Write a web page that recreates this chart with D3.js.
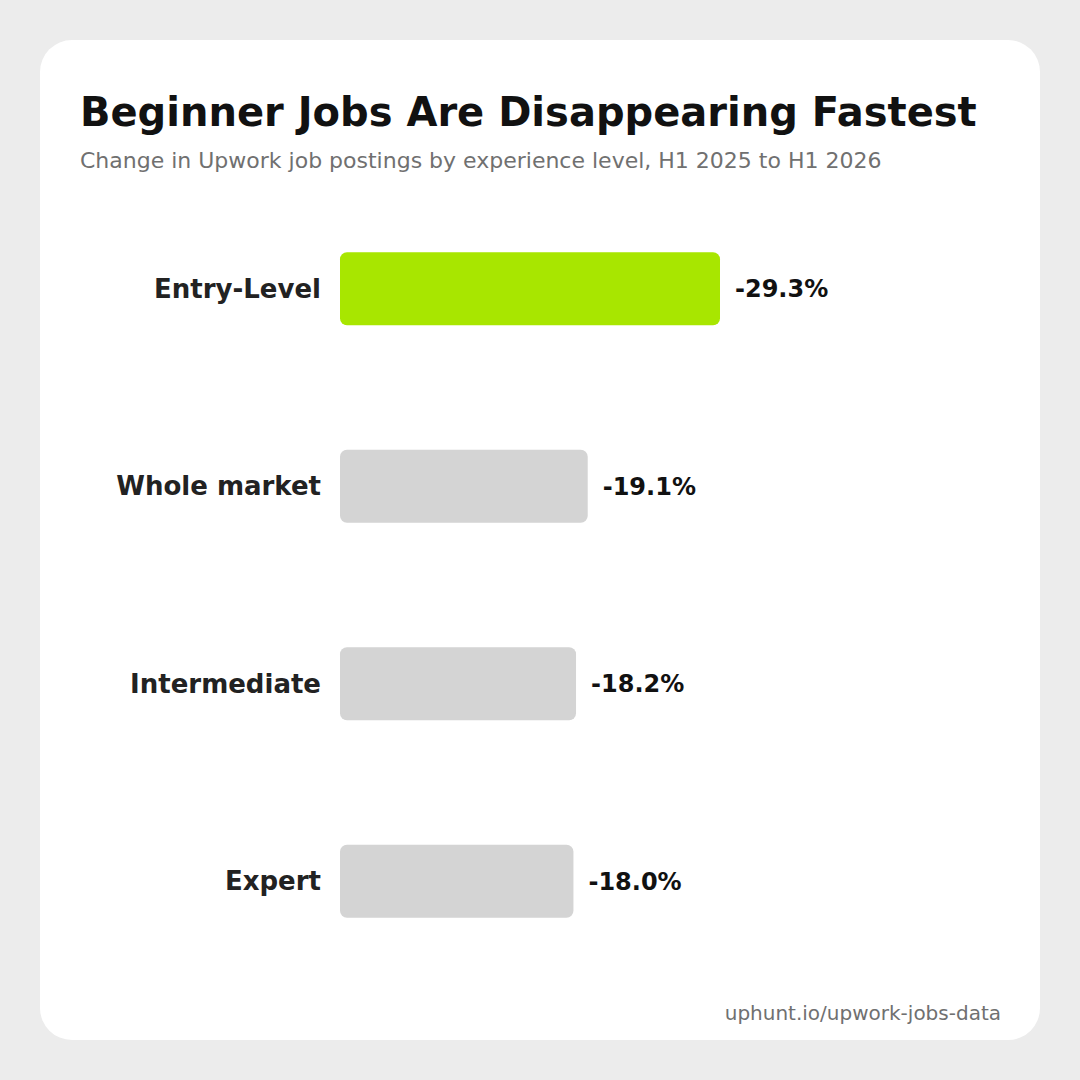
<!DOCTYPE html>
<html><head><meta charset="utf-8">
<script src="https://cdn.jsdelivr.net/npm/d3@7"></script>
<style>html,body{margin:0;padding:0;background:#ececec;}svg{display:block;}</style>
</head><body>
<svg id="c" width="1080" height="1080"></svg>
<script>
const categories = ["Entry-Level", "Whole market", "Intermediate", "Expert"];
const values = [-29.3, -19.1, -18.2, -18.0];
const valueLabels = ["-29.3%", "-19.1%", "-18.2%", "-18.0%"];
const highlight = ["Entry-Level"];

const svg = d3.select("#c");
const font = "'DejaVu Sans', sans-serif";
svg.append("rect").attr("width",1080).attr("height",1080).attr("fill","#ececec");
svg.append("rect").attr("x",40).attr("y",40).attr("width",1000).attr("height",1000).attr("rx",32).attr("fill","#fff");

svg.append("text").attr("x",80).attr("y",126).attr("font-family",font).attr("font-weight","bold")
  .attr("font-size",40).attr("fill","#111").text("Beginner Jobs Are Disappearing Fastest");
svg.append("text").attr("x",80).attr("y",168).attr("font-family",font)
  .attr("font-size",22).attr("fill","#707070").text("Change in Upwork job postings by experience level, H1 2025 to H1 2026");

const x = d3.scaleLinear().domain([0, 29.3]).range([340, 720]);
const y = d3.scaleBand().domain(categories).range([190, 980]).paddingInner(0.63).paddingOuter(0.315);

const g = svg.append("g");
const rows = g.selectAll("g.row").data(categories).join("g").attr("class","row");
rows.append("rect")
  .attr("x", x(0))
  .attr("y", d => y(d))
  .attr("width", (d,i) => x(Math.abs(values[i])) - x(0))
  .attr("height", y.bandwidth())
  .attr("rx", 7)
  .attr("fill", d => highlight.includes(d) ? "#a8e600" : "#d4d4d4");
rows.append("text")
  .attr("x", 321)
  .attr("y", d => y(d) + y.bandwidth()/2)
  .attr("dy","0.35em")
  .attr("text-anchor","end")
  .attr("font-family",font).attr("font-weight","bold").attr("font-size",26)
  .attr("fill","#222").text(d => d);
rows.append("text")
  .attr("x", (d,i) => x(Math.abs(values[i])) + 15)
  .attr("y", d => y(d) + y.bandwidth()/2)
  .attr("dy","0.35em")
  .attr("font-family",font).attr("font-weight","bold").attr("font-size",24)
  .attr("fill","#111").text((d,i) => valueLabels[i]);

svg.append("text").attr("x",1001).attr("y",1020).attr("text-anchor","end").attr("font-family",font)
  .attr("font-size",20).attr("fill","#707070").text("uphunt.io/upwork-jobs-data");
</script>
</body></html>
